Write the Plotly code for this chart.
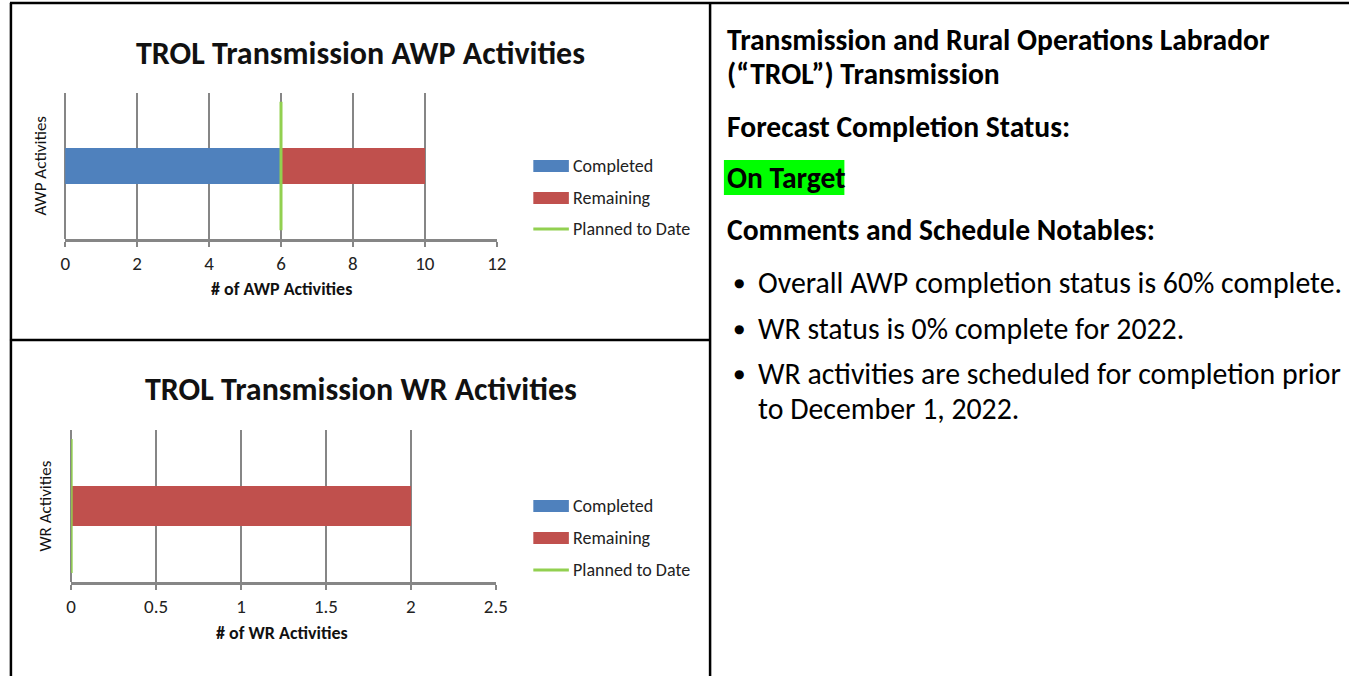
import plotly.graph_objects as go
from plotly.subplots import make_subplots

W, H = 1361, 676

# chart data
series_names = ["Completed", "Remaining", "Planned to Date"]
awp_completed = [6]
awp_remaining = [4]
awp_planned = 6
wr_completed = [0]
wr_remaining = [2]
wr_planned = 0
awp_ticks = [0, 2, 4, 6, 8, 10, 12]
wr_ticks = [0, 0.5, 1, 1.5, 2, 2.5]

# right hand text
header_lines = ["Transmission and Rural Operations Labrador", "(“TROL”) Transmission"]
status_label = "Forecast Completion Status:"
status_value = "On Target"
comments_label = "Comments and Schedule Notables:"
bullets = [
    ["Overall AWP completion status is 60% complete."],
    ["WR status is 0% complete for 2022."],
    ["WR activities are scheduled for completion prior", "to December 1, 2022."],
]

BLUE = "#4F81BD"
RED = "#C0504D"
GREEN = "#92D050"
GRID = "#868686"
FONT = "Carlito, Lato, sans-serif"


def px(x):
    return x / W


def py(y):
    return 1 - y / H


fig = make_subplots(rows=2, cols=1)

charts = [
    dict(row=1, completed=awp_completed, remaining=awp_remaining, planned=awp_planned,
         ticks=awp_ticks, bar_w=0.25),
    dict(row=2, completed=wr_completed, remaining=wr_remaining, planned=wr_planned,
         ticks=wr_ticks, bar_w=0.26),
]

for c in charts:
    fig.add_trace(go.Bar(x=c["completed"], y=[0], orientation="h", width=c["bar_w"],
                         marker=dict(color=BLUE, line_width=0), name=series_names[0],
                         showlegend=False), row=c["row"], col=1)
    fig.add_trace(go.Bar(x=c["remaining"], y=[0], orientation="h", width=c["bar_w"],
                         marker=dict(color=RED, line_width=0), name=series_names[1],
                         showlegend=False), row=c["row"], col=1)
    fig.add_trace(go.Scatter(x=[c["planned"], c["planned"]], y=[-0.44, 0.44], mode="lines",
                             line=dict(color=GREEN, width=3), name=series_names[2],
                             showlegend=False), row=c["row"], col=1)

axis_common = dict(
    showgrid=True, gridcolor=GRID, gridwidth=2,
    zeroline=True, zerolinecolor=GRID, zerolinewidth=2,
    showline=True, linecolor=GRID, linewidth=3,
    ticks="outside", ticklen=5, tickcolor=GRID, tickwidth=2,
    tickfont=dict(family=FONT, size=19, color="#222"),
)
fig.update_xaxes(range=[0, 12], tickvals=awp_ticks, domain=[px(61), px(498)],
                 row=1, col=1, **axis_common)
fig.update_xaxes(range=[0, 2.5], tickvals=wr_ticks, domain=[px(67), px(497)],
                 row=2, col=1, **axis_common)
fig.update_yaxes(range=[-0.5, 0.5], showticklabels=False, showgrid=False, zeroline=False,
                 showline=False)
fig.update_yaxes(domain=[py(239), py(93)], row=1, col=1)
fig.update_yaxes(domain=[py(582), py(430)], row=2, col=1)

ann = []
shapes = []

# chart titles, axis titles, legends
chart_text = [
    dict(title="TROL Transmission AWP Activities", ytitle="AWP Activities",
         xtitle="# of AWP Activities", title_y=53, yt=(35, 166), xt=(280, 289),
         leg_y=[166, 198, 229]),
    dict(title="TROL Transmission WR Activities", ytitle="WR Activities",
         xtitle="# of WR Activities", title_y=389, yt=(40, 506), xt=(280, 633),
         leg_y=[506, 538, 570]),
]
for t in chart_text:
    ann.append(dict(x=px(360), y=py(t["title_y"]), text="<b>" + t["title"] + "</b>",
                    font=dict(family=FONT, size=32, color="#111")))
    ann.append(dict(x=px(t["yt"][0]), y=py(t["yt"][1]), text=t["ytitle"], textangle=-90,
                    font=dict(family=FONT, size=17, color="#111")))
    ann.append(dict(x=px(t["xt"][0]), y=py(t["xt"][1]), text="<b>" + t["xtitle"] + "</b>",
                    font=dict(family=FONT, size=18, color="#111")))
    colors = [BLUE, RED, GREEN]
    for i, (name, yy) in enumerate(zip(series_names, t["leg_y"])):
        if i < 2:
            shapes.append(dict(type="rect", xref="paper", yref="paper",
                               x0=px(535), x1=px(571), y0=py(yy + 6), y1=py(yy - 6),
                               fillcolor=colors[i], line_width=0))
        else:
            shapes.append(dict(type="line", xref="paper", yref="paper",
                               x0=px(535), x1=px(571), y0=py(yy), y1=py(yy),
                               line=dict(color=colors[i], width=3)))
        ann.append(dict(x=px(573), y=py(yy), xanchor="left", text=name,
                        font=dict(family=FONT, size=18, color="#222")))

# right hand text
TX = 729
HEAD = dict(family=FONT, size=29.6, color="#000")
for text, yy in zip(header_lines, [40, 74]):
    ann.append(dict(x=px(TX), y=py(yy), xanchor="left", text="<b>" + text + "</b>", font=HEAD))
ann.append(dict(x=px(TX), y=py(127), xanchor="left", text="<b>" + status_label + "</b>",
                font=HEAD))
shapes.append(dict(type="rect", xref="paper", yref="paper", layer="below",
                   x0=px(728), x1=px(850), y0=py(195), y1=py(160),
                   fillcolor="#00FF00", line_width=0))
ann.append(dict(x=px(TX), y=py(178), xanchor="left", text="<b>" + status_value + "</b>",
                font=HEAD))
ann.append(dict(x=px(TX), y=py(230), xanchor="left", text="<b>" + comments_label + "</b>",
                font=HEAD))
line_y = [[283], [329], [374, 409]]
for lines, ys in zip(bullets, line_y):
    ann.append(dict(x=px(743), y=py(ys[0]), text="●",
                    font=dict(family="DejaVu Sans", size=12, color="#000")))
    for text, yy in zip(lines, ys):
        ann.append(dict(x=px(761), y=py(yy), xanchor="left", text=text,
                        font=dict(family=FONT, size=29.8, color="#000")))

for a in ann:
    a.setdefault("xref", "paper")
    a.setdefault("yref", "paper")
    a.setdefault("showarrow", False)
    a.setdefault("xanchor", "center")
    a.setdefault("yanchor", "middle")

# table borders
border = dict(color="#000", width=2.5)
for x0, y0, x1, y1 in [(5, 3, 1361, 3), (6, 3, 6, 676), (714, 3, 714, 676), (5, 340, 714, 340)]:
    shapes.append(dict(type="line", xref="paper", yref="paper",
                       x0=px(x0), y0=py(y0), x1=px(x1), y1=py(y1), line=border))

fig.update_layout(
    width=W, height=H,
    margin=dict(l=0, r=0, t=0, b=0),
    barmode="stack",
    plot_bgcolor="white", paper_bgcolor="white",
    annotations=ann, shapes=shapes,
    showlegend=False,
)

page_css = (
    "document.documentElement.style.margin = '0';"
    "document.documentElement.style.overflow = 'hidden';"
    "document.body.style.margin = '0';"
    "document.body.style.padding = '0';"
    "document.body.style.overflow = 'hidden';"
)
fig.write_html("out.html", config={"displayModeBar": False}, post_script=page_css)
